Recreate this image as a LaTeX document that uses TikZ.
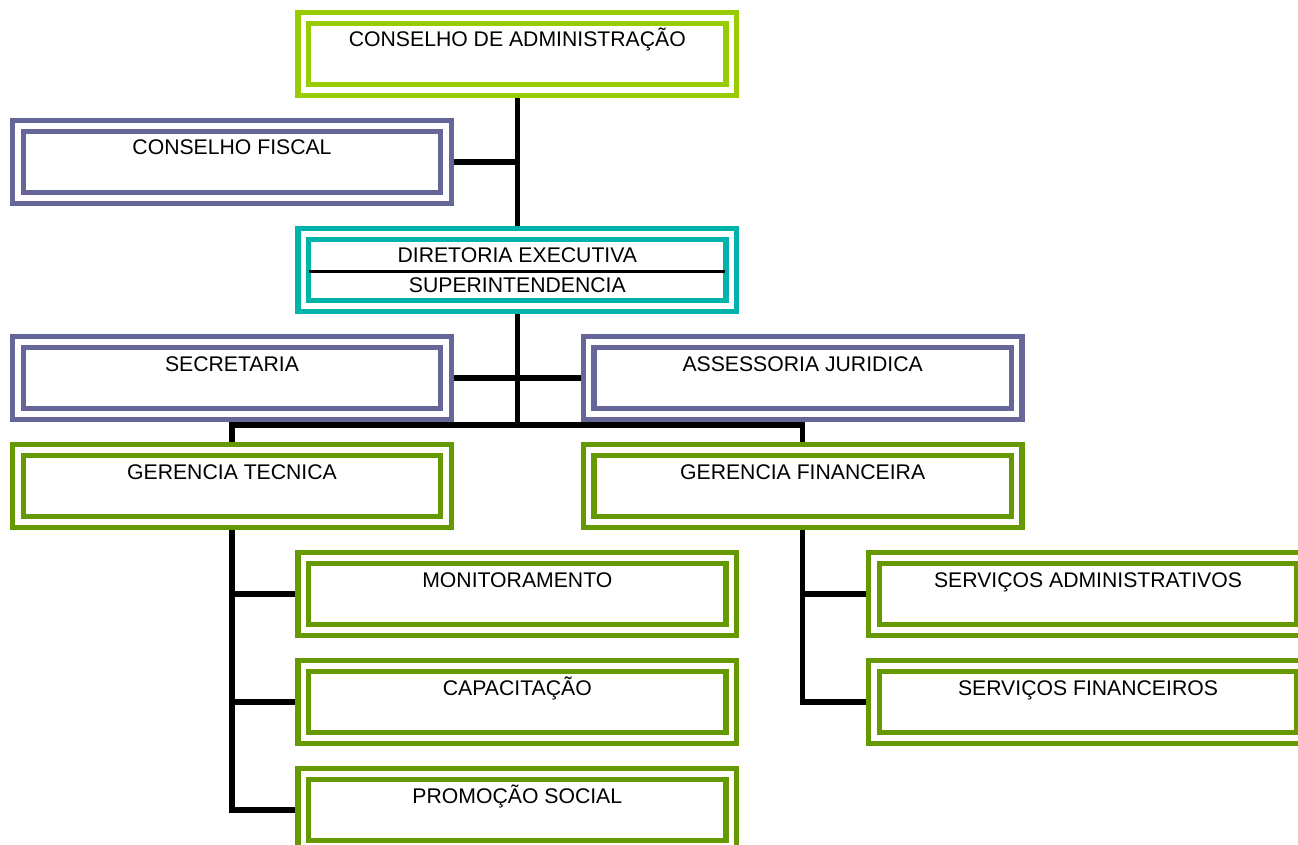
\documentclass[tikz,border=0pt]{standalone}
\usepackage{fontspec}
\setmainfont{Liberation Sans}
\usetikzlibrary{backgrounds}
\definecolor{limegreen}{RGB}{153,204,0}
\definecolor{leafgreen}{RGB}{102,153,0}
\definecolor{slateblue}{RGB}{102,102,153}
\definecolor{boardteal}{RGB}{0,180,172}
\newcommand{\boxfont}{\fontsize{21.2pt}{25pt}\selectfont}

\begin{document}
\begin{tikzpicture}[x=285.33pt,y=-108pt]

  \tikzstyle{unit}=[rectangle,fill=white,double=white,line width=5.2pt,
                    double distance=5.6pt,minimum width=428pt,minimum height=72pt,
                    inner sep=0pt,outer sep=0pt,text height=29pt,text depth=43pt,
                    font=\boxfont]
  \tikzstyle{caption}=[anchor=base,inner sep=0pt,font=\boxfont]
  \tikzstyle{link}=[black,line width=5.5pt]

  \useasboundingbox (-232pt,54pt) rectangle (1066pt,-791pt);
  \clip (-232pt,54pt) rectangle (1066pt,-791pt);

  % board and direction
  \node [unit,draw=limegreen]  (adm)    at (1,0) {CONSELHO DE ADMINISTRAÇÃO};
  \node [unit,draw=slateblue]  (fiscal) at (0,1) {CONSELHO FISCAL};
  \node [unit,draw=boardteal]  (dir)    at (1,2) {};
  \node [caption] (dirtop) at ([yshift=7pt]dir.center)   {DIRETORIA EXECUTIVA};
  \node [caption] (dirbot) at ([yshift=-23pt]dir.center) {SUPERINTENDENCIA};
  \draw [line width=3.5pt] ([xshift=6pt,yshift=-1.5pt]dir.west)
                        -- ([xshift=-6pt,yshift=-1.5pt]dir.east);

  % staff
  \node [unit,draw=slateblue]  (sec)    at (0,3) {SECRETARIA};
  \node [unit,draw=slateblue]  (ass)    at (2,3) {ASSESSORIA JURIDICA};

  % managements
  \node [unit,draw=leafgreen]  (gt)     at (0,4) {GERENCIA TECNICA};
  \node [unit,draw=leafgreen]  (gf)     at (2,4) {GERENCIA FINANCEIRA};
  \node [unit,draw=leafgreen]  (mon)    at (1,5) {MONITORAMENTO};
  \node [unit,draw=leafgreen]  (cap)    at (1,6) {CAPACITAÇÃO};
  \node [unit,draw=leafgreen]  (prom)   at (1,7) {PROMOÇÃO SOCIAL};
  \node [unit,draw=leafgreen]  (sa)     at (3,5) {SERVIÇOS ADMINISTRATIVOS};
  \node [unit,draw=leafgreen]  (sf)     at (3,6) {SERVIÇOS FINANCEIROS};

  \coordinate (bus) at ([yshift=-10.75pt]sec.south);

  \begin{scope}[on background layer]
    \draw [link] (adm) -- (dir);
    \draw [link] (fiscal) -- (fiscal -| adm);
    \draw [link] (sec) -- (ass);
    \draw [link] (dir) -- (dir |- bus);
    \draw [link] (gt) |- (gf |- bus) -- (gf);
    \draw [link] (gt) |- (prom);
    \draw [link] (mon -| gt) -- (mon);
    \draw [link] (cap -| gt) -- (cap);
    \draw [link] (gf) |- (sf);
    \draw [link] (sa -| gf) -- (sa);
  \end{scope}
\end{tikzpicture}
\end{document}
